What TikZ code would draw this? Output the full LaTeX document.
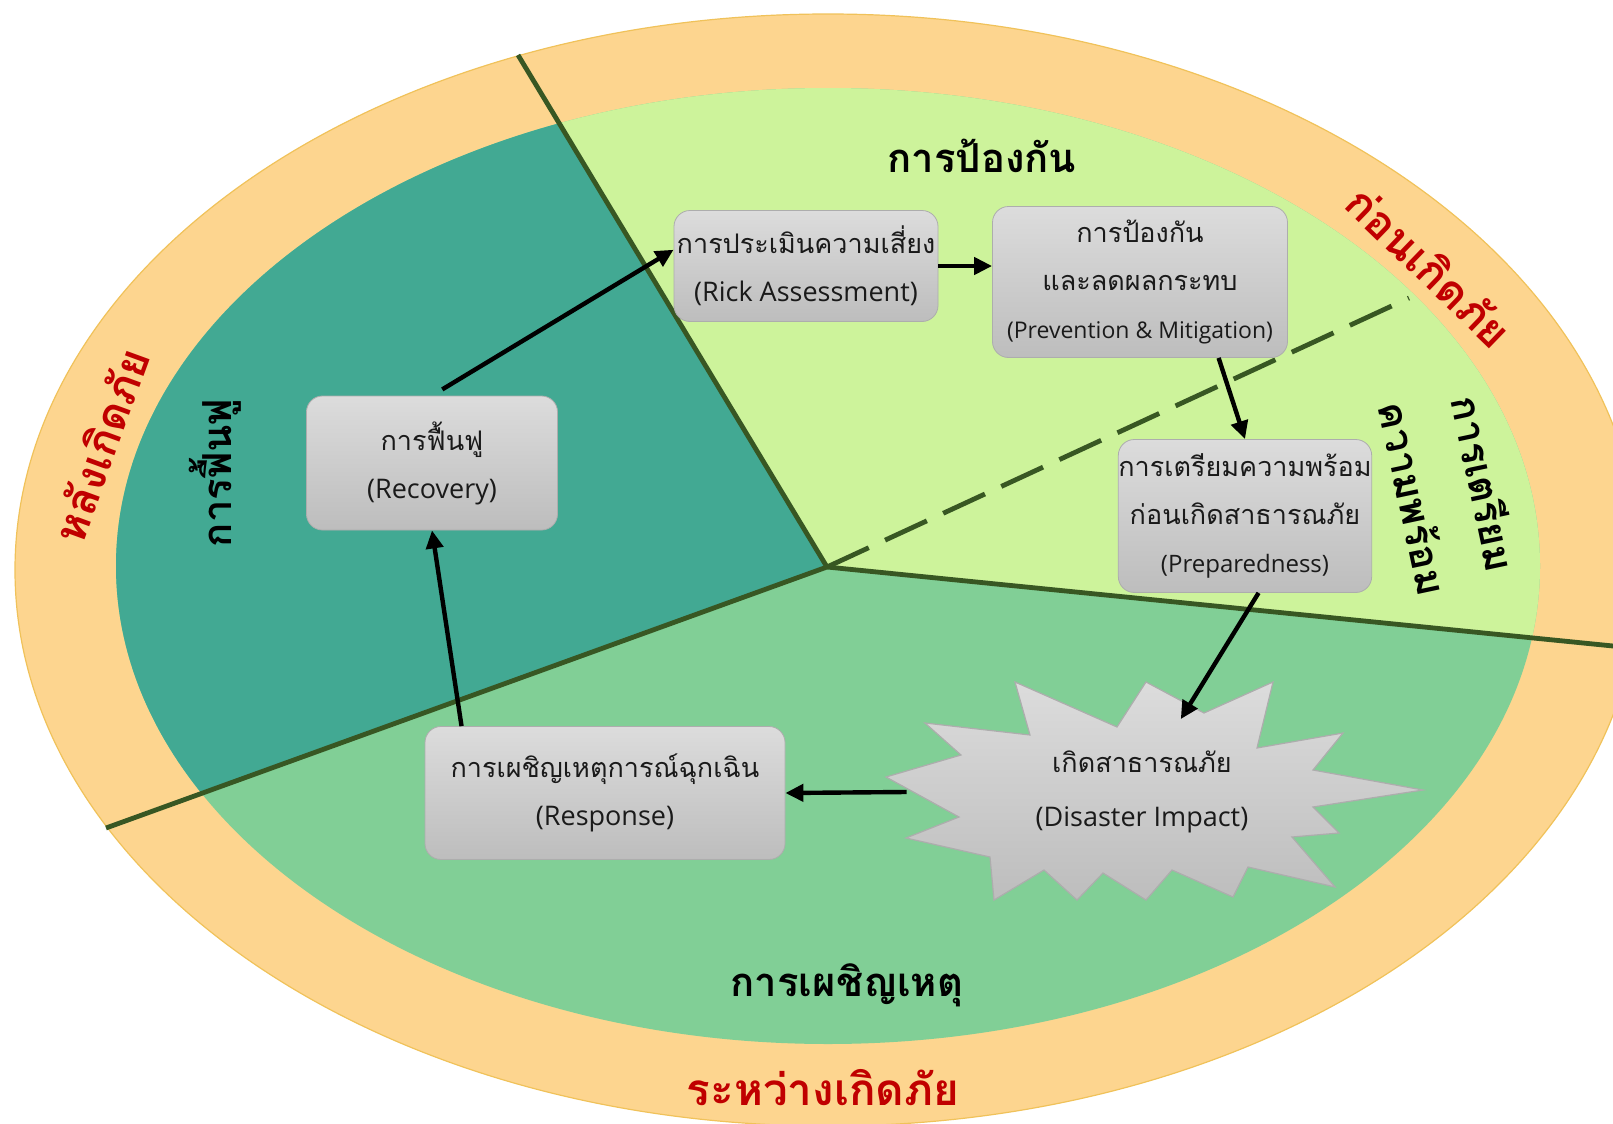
\documentclass[tikz,border=0pt]{standalone}
\usepackage{fontspec}
\setmainfont{Loma}[Script=Thai]
\newfontfamily\engfont{Open Sans}
\usetikzlibrary{arrows.meta}

\definecolor{bandorange}{HTML}{FDD58F}
\definecolor{bandedge}{HTML}{F0C25A}
\definecolor{preventgreen}{HTML}{CDF39B}
\definecolor{recoverteal}{HTML}{42A993}
\definecolor{respondgreen}{HTML}{81CF96}
\definecolor{cutline}{HTML}{385723}
\definecolor{periodred}{HTML}{C00000}
\definecolor{boxtop}{HTML}{DCDCDC}
\definecolor{boxbottom}{HTML}{BDBDBD}
\definecolor{boxline}{HTML}{ADADAD}
\definecolor{boxtext}{HTML}{1A1A1A}

\begin{document}
\begin{tikzpicture}[x=0.5pt,y=-0.5pt]
   \tikzstyle{stage}=[rectangle, rounded corners=8pt, draw=boxline, top color=boxtop, bottom color=boxbottom, text=boxtext, align=center, inner sep=0pt, font=\fontsize{13.5}{24}\selectfont]
   \tikzstyle{flow}=[-{Triangle[length=9pt,width=8.5pt]}, line width=2.2pt]
   \tikzstyle{cut}=[line width=2.4pt, draw=cutline]
   \tikzstyle{phase}=[font=\fontsize{20}{36}\selectfont\bfseries, align=center]
   \tikzstyle{period}=[font=\fontsize{22}{26}\selectfont\bfseries, text=periodred]

\useasboundingbox (0,0) rectangle (1613,1124);
\clip (0,0) rectangle (1613,1124);

\coordinate (hub) at (827,567);
\coordinate (cutNW) at (518,55);
\coordinate (cutSW) at (106,828);
\coordinate (cutE) at (1613,646);
\coordinate (dashNE) at (1409,298);

\filldraw[fill=bandorange, draw=bandedge, line width=0.6pt] (828,570) ellipse [x radius=813, y radius=556];
\begin{scope}
   \clip (828,566) ellipse [x radius=712, y radius=478];
   \fill[respondgreen] (0,0) rectangle (1613,1124);
   \fill[preventgreen] (hub) -- (456,-47) -- (1700,-47) -- (1700,655) -- cycle;
   \fill[recoverteal] (hub) -- (456,-47) -- (-100,-47) -- (-100,903) -- cycle;
\end{scope}

\draw[cut] (hub) -- (cutNW);
\draw[cut] (hub) -- (cutSW);
\draw[cut] (hub) -- (cutE);
\draw[cut, dash pattern=on 23pt off 9pt] (hub) -- (dashNE);

\draw[draw=boxline, top color=boxtop, bottom color=boxbottom, line width=0.6pt]
   (1015,682) -- (1117,727) -- (1146,682) -- (1204,713) -- (1273,682) -- (1257,748)
   -- (1343,733) -- (1313,770) -- (1423,790) -- (1313,807) -- (1339,833) -- (1292,837)
   -- (1335,887) -- (1248,867) -- (1233,897) -- (1172,870) -- (1146,900) -- (1103,873)
   -- (1077,900) -- (1044,870) -- (994,900) -- (990,857) -- (906,838) -- (959,817)
   -- (886,777) -- (961,755) -- (925,723) -- (1030,735) -- cycle;

\node[stage, minimum width=132pt, minimum height=55.5pt] (risk) at (806,266)
   {การประเมินความเสี่ยง\\{\engfont(Rick Assessment)}};
\node[stage, minimum width=147.5pt, minimum height=75.5pt] (prevent) at (1140,282)
   {การป้องกัน\\และลดผลกระทบ\\{\engfont\fontsize{11.5}{22}\selectfont(Prevention \& Mitigation)}};
\node[stage, minimum width=126pt, minimum height=76.5pt] (prepare) at (1245,516)
   {การเตรียมความพร้อม\\ก่อนเกิดสาธารณภัย\\{\engfont\fontsize{12}{22}\selectfont(Preparedness)}};
\node[stage, minimum width=125.5pt, minimum height=67pt] (recovery) at (432,463)
   {การฟื้นฟู\\{\engfont(Recovery)}};
\node[stage, minimum width=180pt, minimum height=66.5pt] (response) at (605,793)
   {การเผชิญเหตุการณ์ฉุกเฉิน\\{\engfont(Response)}};
\node[align=center, inner sep=0pt, minimum width=235pt, minimum height=72.5pt, text=boxtext, font=\fontsize{13.5}{27}\selectfont] (burst) at (1142,792)
   {เกิดสาธารณภัย\\{\engfont(Disaster Impact)}};

\draw[flow, shorten <=6pt] (recovery.north) -- (risk.173);
\draw[flow] (risk.east) -- (risk.east -| prevent.west);
\draw[flow] (prevent.-44) -- (prepare.north);
\draw[flow] (prepare.-80) -- (burst.62);
\draw[flow] (burst.west) -- (response.east);
\draw[flow] (response.155) -- (recovery.south);

\node[phase] (preventlabel) at (982,156) {การป้องกัน};
\node[phase] (responselabel) at (847,985) {การเผชิญเหตุ};
\node[phase, rotate=90] (recoverylabel) at (215,473) {การฟื้นฟู};
\node[phase, rotate=-78] (preparelabel) at (1450,491) {การเตรียม\\ความพร้อม};

\node[period, rotate=70] (afterlabel) at (100,445) {หลังเกิดภัย};
\node[period, rotate=-44] (beforelabel) at (1430,266) {ก่อนเกิดภัย};
\node[period] (duringlabel) at (823,1088) {ระหว่างเกิดภัย};

\end{tikzpicture}
\end{document}
